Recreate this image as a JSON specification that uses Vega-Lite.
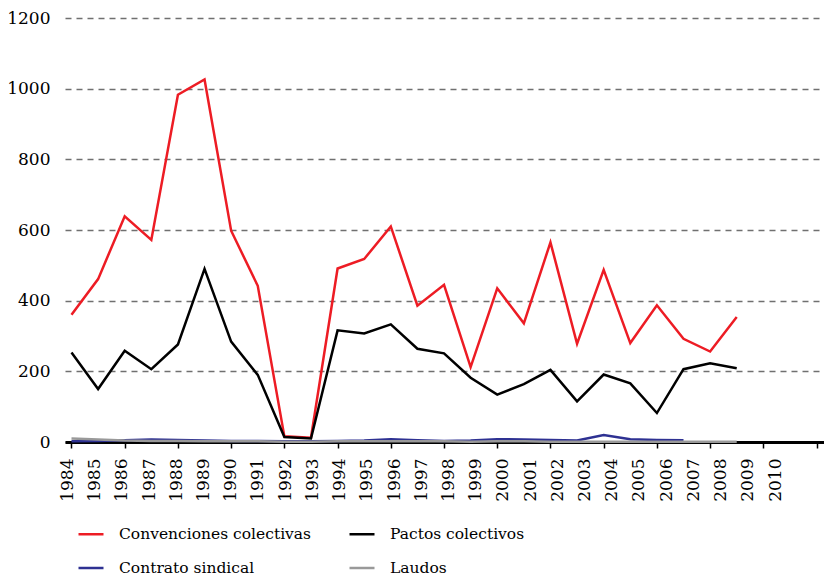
{
  "$schema": "https://vega.github.io/schema/vega-lite/v6.json",
  "width": 759,
  "height": 424,
  "autosize": {"type": "none"},
  "padding": {"left": 65, "top": 18, "right": 0, "bottom": 137},
  "background": "white",
  "config": {"view": {"stroke": null}, "font": "DejaVu Serif"},
  "data": {
    "values": [
      {"year": 1984, "series": "Convenciones colectivas", "value": 360},
      {"year": 1985, "series": "Convenciones colectivas", "value": 461},
      {"year": 1986, "series": "Convenciones colectivas", "value": 639},
      {"year": 1987, "series": "Convenciones colectivas", "value": 572},
      {"year": 1988, "series": "Convenciones colectivas", "value": 983},
      {"year": 1989, "series": "Convenciones colectivas", "value": 1026},
      {"year": 1990, "series": "Convenciones colectivas", "value": 598},
      {"year": 1991, "series": "Convenciones colectivas", "value": 442},
      {"year": 1992, "series": "Convenciones colectivas", "value": 16},
      {"year": 1993, "series": "Convenciones colectivas", "value": 12},
      {"year": 1994, "series": "Convenciones colectivas", "value": 491},
      {"year": 1995, "series": "Convenciones colectivas", "value": 518},
      {"year": 1996, "series": "Convenciones colectivas", "value": 610},
      {"year": 1997, "series": "Convenciones colectivas", "value": 386},
      {"year": 1998, "series": "Convenciones colectivas", "value": 445},
      {"year": 1999, "series": "Convenciones colectivas", "value": 212},
      {"year": 2000, "series": "Convenciones colectivas", "value": 435},
      {"year": 2001, "series": "Convenciones colectivas", "value": 336},
      {"year": 2002, "series": "Convenciones colectivas", "value": 565},
      {"year": 2003, "series": "Convenciones colectivas", "value": 278},
      {"year": 2004, "series": "Convenciones colectivas", "value": 487},
      {"year": 2005, "series": "Convenciones colectivas", "value": 280},
      {"year": 2006, "series": "Convenciones colectivas", "value": 387},
      {"year": 2007, "series": "Convenciones colectivas", "value": 292},
      {"year": 2008, "series": "Convenciones colectivas", "value": 256},
      {"year": 2009, "series": "Convenciones colectivas", "value": 354},
      {"year": 1984, "series": "Pactos colectivos", "value": 253},
      {"year": 1985, "series": "Pactos colectivos", "value": 150},
      {"year": 1986, "series": "Pactos colectivos", "value": 258},
      {"year": 1987, "series": "Pactos colectivos", "value": 206},
      {"year": 1988, "series": "Pactos colectivos", "value": 276},
      {"year": 1989, "series": "Pactos colectivos", "value": 490},
      {"year": 1990, "series": "Pactos colectivos", "value": 284},
      {"year": 1991, "series": "Pactos colectivos", "value": 190},
      {"year": 1992, "series": "Pactos colectivos", "value": 14},
      {"year": 1993, "series": "Pactos colectivos", "value": 10},
      {"year": 1994, "series": "Pactos colectivos", "value": 316},
      {"year": 1995, "series": "Pactos colectivos", "value": 307},
      {"year": 1996, "series": "Pactos colectivos", "value": 333},
      {"year": 1997, "series": "Pactos colectivos", "value": 264},
      {"year": 1998, "series": "Pactos colectivos", "value": 251},
      {"year": 1999, "series": "Pactos colectivos", "value": 182},
      {"year": 2000, "series": "Pactos colectivos", "value": 134},
      {"year": 2001, "series": "Pactos colectivos", "value": 164},
      {"year": 2002, "series": "Pactos colectivos", "value": 204},
      {"year": 2003, "series": "Pactos colectivos", "value": 115},
      {"year": 2004, "series": "Pactos colectivos", "value": 191},
      {"year": 2005, "series": "Pactos colectivos", "value": 166},
      {"year": 2006, "series": "Pactos colectivos", "value": 82},
      {"year": 2007, "series": "Pactos colectivos", "value": 206},
      {"year": 2008, "series": "Pactos colectivos", "value": 223},
      {"year": 2009, "series": "Pactos colectivos", "value": 209},
      {"year": 1984, "series": "Contrato sindical", "value": 2},
      {"year": 1985, "series": "Contrato sindical", "value": 3},
      {"year": 1986, "series": "Contrato sindical", "value": 5},
      {"year": 1987, "series": "Contrato sindical", "value": 7},
      {"year": 1988, "series": "Contrato sindical", "value": 6},
      {"year": 1989, "series": "Contrato sindical", "value": 4},
      {"year": 1990, "series": "Contrato sindical", "value": 3},
      {"year": 1991, "series": "Contrato sindical", "value": 3},
      {"year": 1992, "series": "Contrato sindical", "value": 2},
      {"year": 1993, "series": "Contrato sindical", "value": 2},
      {"year": 1994, "series": "Contrato sindical", "value": 3},
      {"year": 1995, "series": "Contrato sindical", "value": 4},
      {"year": 1996, "series": "Contrato sindical", "value": 8},
      {"year": 1997, "series": "Contrato sindical", "value": 5},
      {"year": 1998, "series": "Contrato sindical", "value": 3},
      {"year": 1999, "series": "Contrato sindical", "value": 4},
      {"year": 2000, "series": "Contrato sindical", "value": 8},
      {"year": 2001, "series": "Contrato sindical", "value": 7},
      {"year": 2002, "series": "Contrato sindical", "value": 6},
      {"year": 2003, "series": "Contrato sindical", "value": 4},
      {"year": 2004, "series": "Contrato sindical", "value": 20},
      {"year": 2005, "series": "Contrato sindical", "value": 8},
      {"year": 2006, "series": "Contrato sindical", "value": 6},
      {"year": 2007, "series": "Contrato sindical", "value": 5},
      {"year": 1984, "series": "Laudos", "value": 10},
      {"year": 1985, "series": "Laudos", "value": 7},
      {"year": 1986, "series": "Laudos", "value": 4},
      {"year": 1987, "series": "Laudos", "value": 3},
      {"year": 1988, "series": "Laudos", "value": 3},
      {"year": 1989, "series": "Laudos", "value": 2},
      {"year": 1990, "series": "Laudos", "value": 2},
      {"year": 1991, "series": "Laudos", "value": 2},
      {"year": 1992, "series": "Laudos", "value": 1},
      {"year": 1993, "series": "Laudos", "value": 1},
      {"year": 1994, "series": "Laudos", "value": 2},
      {"year": 1995, "series": "Laudos", "value": 2},
      {"year": 1996, "series": "Laudos", "value": 2},
      {"year": 1997, "series": "Laudos", "value": 2},
      {"year": 1998, "series": "Laudos", "value": 2},
      {"year": 1999, "series": "Laudos", "value": 1},
      {"year": 2000, "series": "Laudos", "value": 2},
      {"year": 2001, "series": "Laudos", "value": 2},
      {"year": 2002, "series": "Laudos", "value": 1},
      {"year": 2003, "series": "Laudos", "value": 1},
      {"year": 2004, "series": "Laudos", "value": 1},
      {"year": 2005, "series": "Laudos", "value": 1},
      {"year": 2006, "series": "Laudos", "value": 1},
      {"year": 2007, "series": "Laudos", "value": 1},
      {"year": 2008, "series": "Laudos", "value": 1},
      {"year": 2009, "series": "Laudos", "value": 1}
    ]
  },
  "layer": [
    {
      "mark": {"type": "line", "strokeWidth": 2.5, "clip": false},
      "encoding": {
        "x": {
          "field": "year",
          "type": "quantitative",
          "scale": {"domain": [1983.756, 2012.28], "nice": false, "zero": false},
          "axis": {
            "orient": "bottom",
            "values": [1984, 1986, 1988, 1990, 1992, 1994, 1996, 1998, 2000, 2002, 2004, 2006, 2008, 2010, 2012],
            "labels": false,
            "grid": false,
            "domain": true,
            "domainColor": "black",
            "domainWidth": 3,
            "ticks": true,
            "tickColor": "black",
            "tickWidth": 1.5,
            "tickSize": 6,
            "title": null
          }
        },
        "y": {
          "field": "value",
          "type": "quantitative",
          "scale": {"domain": [0, 1200], "nice": false},
          "axis": {
            "values": [0, 200, 400, 600, 800, 1000, 1200],
            "format": "d",
            "domain": false,
            "ticks": false,
            "grid": true,
            "gridDash": [6, 5],
            "gridColor": "#707070",
            "gridWidth": 1.3,
            "labelFont": "DejaVu Serif",
            "labelFontSize": 17,
            "labelColor": "black",
            "labelPadding": 15,
            "title": null
          }
        },
        "color": {
          "field": "series",
          "type": "nominal",
          "scale": {
            "domain": ["Convenciones colectivas", "Pactos colectivos", "Contrato sindical", "Laudos"],
            "range": ["#ED1C24", "#000000", "#2E3192", "#999999"]
          },
          "legend": {
            "orient": "none",
            "legendX": 12,
            "legendY": 502,
            "direction": "horizontal",
            "columns": 2,
            "title": null,
            "symbolType": "stroke",
            "symbolSize": 625,
            "symbolStrokeWidth": 2.5,
            "labelFont": "DejaVu Serif",
            "labelFontSize": 15.5,
            "labelColor": "black",
            "labelOffset": 14,
            "columnPadding": 32,
            "rowPadding": 11,
            "padding": 0,
            "labelLimit": 400
          }
        }
      }
    },
    {
      "mark": {"type": "point", "opacity": 0},
      "encoding": {
        "x": {
          "field": "year",
          "type": "quantitative",
          "scale": {"domain": [1983.908, 2011.8], "nice": false, "zero": false},
          "axis": {
            "orient": "bottom",
            "values": [1984, 1985, 1986, 1987, 1988, 1989, 1990, 1991, 1992, 1993, 1994, 1995, 1996, 1997, 1998, 1999, 2000, 2001, 2002, 2003, 2004, 2005, 2006, 2007, 2008, 2009, 2010],
            "format": "d",
            "labelAngle": -90,
            "domain": false,
            "ticks": false,
            "tickSize": 0,
            "grid": false,
            "labelPadding": 16,
            "labelFont": "DejaVu Serif",
            "labelFontSize": 17,
            "labelColor": "black",
            "labelOverlap": false,
            "labelFlush": false,
            "labelBound": false,
            "title": null
          }
        },
        "y": {"field": "value", "type": "quantitative"}
      }
    }
  ],
  "resolve": {"scale": {"x": "independent"}, "axis": {"x": "independent"}}
}
